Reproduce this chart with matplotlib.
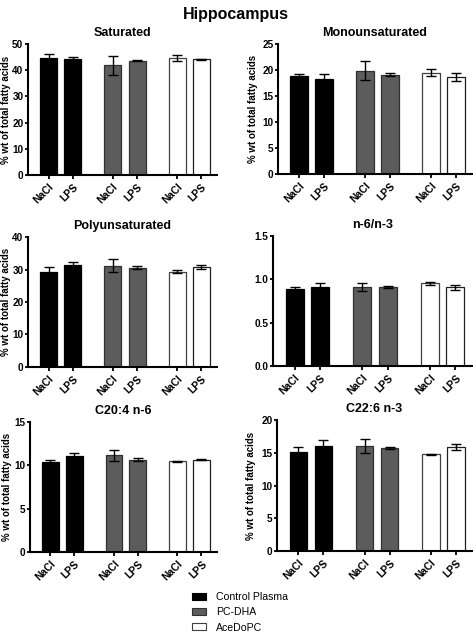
import matplotlib
matplotlib.use("Agg")
import matplotlib.pyplot as plt
from matplotlib.patches import Patch
import numpy as np

plt.rcParams['font.family'] = ['Liberation Sans', 'DejaVu Sans']

groups = ["Control Plasma", "PC-DHA", "AceDoPC"]
conditions = ["NaCl", "LPS"]
tick_labels = ["NaCl", "LPS", "NaCl", "LPS", "NaCl", "LPS"]

titles = ["Saturated", "Monounsaturated", "Polyunsaturated", "n-6/n-3", "C20:4 n-6", "C22:6 n-3"]

saturated_mean = [44.8, 44.1, 41.8, 43.7, 44.7, 44.1]
saturated_err = [1.4, 0.9, 3.6, 0.2, 1.1, 0.3]
mono_mean = [18.9, 18.3, 19.9, 19.1, 19.5, 18.6]
mono_err = [0.4, 1.0, 1.8, 0.3, 0.6, 0.8]
poly_mean = [29.3, 31.3, 31.1, 30.6, 29.3, 30.8]
poly_err = [1.4, 0.9, 2.0, 0.4, 0.5, 0.6]
n6n3_mean = [0.89, 0.91, 0.91, 0.91, 0.955, 0.91]
n6n3_err = [0.02, 0.05, 0.045, 0.01, 0.015, 0.03]
c204_mean = [10.35, 11.1, 11.15, 10.65, 10.45, 10.65]
c204_err = [0.27, 0.35, 0.65, 0.15, 0.04, 0.08]
c226_mean = [15.15, 16.05, 16.05, 15.75, 14.75, 15.9]
c226_err = [0.8, 0.9, 1.1, 0.2, 0.1, 0.45]

means = [saturated_mean, mono_mean, poly_mean, n6n3_mean, c204_mean, c226_mean]
errs = [saturated_err, mono_err, poly_err, n6n3_err, c204_err, c226_err]
ymaxes = [50, 25, 40, 1.5, 15, 20]
ysteps = [10, 5, 10, 0.5, 5, 5]
has_ylabel = [True, True, True, False, True, True]

face_colors = ["#000000", "#000000", "#5c5c5c", "#5c5c5c", "#ffffff", "#ffffff"]
edge_colors = ["#000000", "#000000", "#303030", "#303030", "#404040", "#202020"]

W, H = 473, 635
fig = plt.figure(figsize=(W / 100, H / 100), dpi=100)

# pixel boxes: (left, right, top, bottom)
boxes = [
    (28, 217, 44, 175),
    (278, 472, 44, 174),
    (28, 217, 237, 367),
    (273, 472, 236, 366),
    (30, 217, 422, 552),
    (277, 472, 420, 551),
]
ylabel_px = [6, 253, 6, 0, 7, 251]

xpos = np.array([0, 1, 2.65, 3.65, 5.3, 6.3])

for i, (l, r, t, b) in enumerate(boxes):
    ax = fig.add_axes([l / W, 1 - b / H, (r - l) / W, (b - t) / H])
    ax.bar(xpos, means[i], width=0.7, color=face_colors, edgecolor=edge_colors,
           linewidth=0.9, zorder=2)
    ax.errorbar(xpos, means[i], yerr=errs[i], fmt='none', ecolor='black',
                elinewidth=1.0, capsize=3.5, capthick=1.0, zorder=3)
    ax.set_xlim(-0.85, 6.95)
    ax.set_ylim(0, ymaxes[i])
    ax.set_yticks(np.arange(0, ymaxes[i] + ysteps[i] / 2, ysteps[i]))
    if ymaxes[i] < 5:
        ax.set_yticklabels([f"{v:.1f}" for v in ax.get_yticks()])
    else:
        ax.set_yticklabels([f"{int(v)}" for v in ax.get_yticks()])
    ax.set_xticks(xpos)
    ax.set_xticklabels(tick_labels, rotation=45, ha='right', rotation_mode='anchor',
                       fontsize=7.5, fontweight='bold')
    for lab in ax.get_yticklabels():
        lab.set_fontweight('bold')
        lab.set_fontsize(7.2)
    ax.tick_params(axis='y', width=1.3, length=2.5, pad=0.8)
    ax.tick_params(axis='x', width=1.3, length=3, pad=2)
    for s in ['top', 'right']:
        ax.spines[s].set_visible(False)
    for s in ['left', 'bottom']:
        ax.spines[s].set_linewidth(1.5)
    ax.set_title(titles[i], fontsize=9, fontweight='bold', pad=6)
    if has_ylabel[i]:
        ax.set_ylabel("% wt of total fatty acids", fontsize=7.0, fontweight='bold')
        ax.yaxis.set_label_coords((ylabel_px[i] - l) / (r - l), 0.5)
        ax.yaxis.label.set_va('center')

fig.text(236 / W, 1 - 14 / H, "Hippocampus", ha='center', va='center',
         fontsize=11.5, fontweight='bold')

handles = [Patch(facecolor=face_colors[0], edgecolor=edge_colors[0], linewidth=0.8),
           Patch(facecolor=face_colors[2], edgecolor=edge_colors[2], linewidth=0.8),
           Patch(facecolor=face_colors[4], edgecolor="#404040", linewidth=0.8)]
fig.legend(handles, groups, loc='upper left', bbox_to_anchor=(192 / W, 1 - 592 / H),
           frameon=False, fontsize=7.6, handlelength=1.35, handleheight=0.6,
           handletextpad=0.95, labelspacing=0.5, borderaxespad=0, borderpad=0)

fig.savefig("out.png", dpi=100)
